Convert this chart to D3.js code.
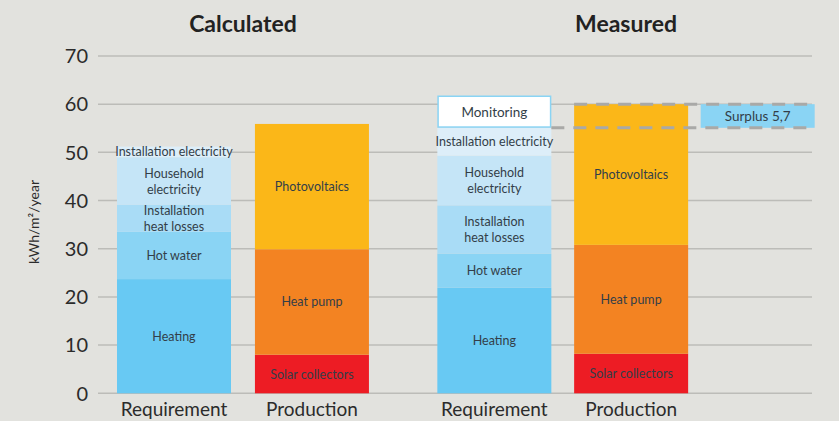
<!DOCTYPE html>
<html>
<head>
<meta charset="utf-8">
<script src="https://cdn.jsdelivr.net/npm/d3@7"></script>
<style>
    body { margin: 0; background: #e2e2de; }
    svg { display: block; font-family: Lato, "Open Sans", sans-serif; }
    .grid line { stroke: #bcbcb8; stroke-width: 1.5; }
    .tick-label { font-size: 20px; fill: #2b2b2b; text-anchor: end; }
    .seg-label { font-size: 12.5px; fill: #333e48; text-anchor: middle; }
    .cat-label { font-size: 19px; fill: #2b2b2b; text-anchor: middle; }
    .title { font-size: 23px; font-weight: bold; fill: #222; text-anchor: middle; }
</style>
</head>
<body>
<script>

// chart values (kWh/m2/year)
var groups = ["Calculated", "Measured"];
var columnLabels = ["Requirement", "Production"];
var yTicks = [0, 10, 20, 30, 40, 50, 60, 70];

var requirementNames = ["Heating", "Hot water", "Installation heat losses", "Household electricity", "Installation electricity", "Monitoring"];
var productionNames = ["Solar collectors", "Heat pump", "Photovoltaics"];

var calcRequirement = [23.7, 9.8, 5.6, 9.9, 2.2];
var calcProduction = [8.0, 21.9, 26.0];
var measRequirement = [21.9, 7.1, 10.0, 10.3, 5.8, 6.7];
var measProduction = [8.2, 22.6, 29.2];
var surplusLabel = "Surplus 5,7";

// label text per segment (line breaks where the picture wraps)
var segmentText = {
    "Heating": ["Heating"],
    "Hot water": ["Hot water"],
    "Installation heat losses": ["Installation", "heat losses"],
    "Household electricity": ["Household", "electricity"],
    "Installation electricity": ["Installation electricity"],
    "Monitoring": ["Monitoring"],
    "Solar collectors": ["Solar collectors"],
    "Heat pump": ["Heat pump"],
    "Photovoltaics": ["Photovoltaics"]
};

var colors = {
    "Heating": "#68c9f3",
    "Hot water": "#8ad4f4",
    "Installation heat losses": "#a9dcf6",
    "Household electricity": "#c5e5f7",
    "Installation electricity": "#ddeef9",
    "Monitoring": "#ffffff",
    "Solar collectors": "#ed1c24",
    "Heat pump": "#f38322",
    "Photovoltaics": "#fbb718",
    "Surplus": "#8ad4f4"
};

window.onload = function() {

    var width = 839, height = 421;

    var svg = d3.select("body")
        .append("svg")
        .attr("width", width)
        .attr("height", height);

    // y scale: 0 .. 70
    var y = d3.scaleLinear()
        .domain([0, 70])
        .range([393.3, 56]);

    // x in units of one bar width, offsets per column
    var x = d3.scaleLinear()
        .domain([0, 1])
        .range([117, 231]);
    var colPos = {
        "Calculated": {req: 0, prod: 1.21},
        "Measured": {req: 2.81, prod: 4.01, surplus: 5.12}
    };

    // gridlines and tick labels
    var grid = svg.append("g").attr("class", "grid");
    grid.selectAll("line")
        .data(yTicks)
        .enter().append("line")
        .attr("x1", 98)
        .attr("x2", 812)
        .attr("y1", function(d) { return y(d); })
        .attr("y2", function(d) { return y(d); });

    svg.selectAll(".tick-label")
        .data(yTicks)
        .enter().append("text")
        .attr("class", "tick-label")
        .attr("x", 88)
        .attr("y", function(d) { return y(d); })
        .attr("dy", "0.36em")
        .text(function(d) { return d; });

    // axis title
    svg.append("text")
        .attr("transform", "translate(39,222) rotate(-90)")
        .attr("text-anchor", "middle")
        .style("font-size", "14px")
        .style("fill", "#2b2b2b")
        .text("kWh/m²/year");

    // turn a list of values into stacked segments
    function stack(values, names) {
        var base = 0;
        return values.map(function(v, i) {
            var seg = {name: names[i], y0: base, y1: base + v};
            base += v;
            return seg;
        });
    }

    var columns = [
        {group: "Calculated", col: "req", segs: stack(calcRequirement, requirementNames)},
        {group: "Calculated", col: "prod", segs: stack(calcProduction, productionNames)},
        {group: "Measured", col: "req", segs: stack(measRequirement, requirementNames)},
        {group: "Measured", col: "prod", segs: stack(measProduction, productionNames)}
    ];

    var measReqTotal = d3.sum(measRequirement.slice(0, 5));
    var measProdTotal = d3.sum(measProduction);

    // surplus bar behind the dashed lines
    var sp = colPos["Measured"].surplus;
    svg.append("rect")
        .attr("x", x(sp))
        .attr("width", x(1) - x(0))
        .attr("y", y(measProdTotal))
        .attr("height", y(measReqTotal) - y(measProdTotal))
        .style("fill", colors["Surplus"]);
    svg.append("text")
        .attr("class", "seg-label")
        .style("font-size", "13.5px")
        .attr("x", x(sp + 0.5))
        .attr("y", (y(measProdTotal) + y(measReqTotal)) / 2)
        .attr("dy", "0.36em")
        .text(surplusLabel);

    columns.forEach(function(c) {
        var pos = colPos[c.group][c.col];
        var g = svg.append("g");

        g.selectAll("rect")
            .data(c.segs)
            .enter().append("rect")
            .attr("x", function(d) { return x(pos) + (d.name === "Monitoring" ? 0.75 : 0); })
            .attr("width", function(d) { return x(1) - x(0) - (d.name === "Monitoring" ? 1.5 : 0); })
            .attr("y", function(d) { return y(d.y1) + (d.name === "Monitoring" ? 0.75 : 0); })
            .attr("height", function(d) { return y(d.y0) - y(d.y1) - (d.name === "Monitoring" ? 1.5 : 0); })
            .style("fill", function(d) { return colors[d.name]; })
            .style("stroke", function(d) { return d.name === "Monitoring" ? colors["Hot water"] : "none"; })
            .style("stroke-width", 1.5);

        g.selectAll("text")
            .data(c.segs)
            .enter().append("text")
            .attr("class", "seg-label")
            .attr("x", x(pos + 0.5))
            .attr("y", function(d) {
                var lines = segmentText[d.name].length;
                return (y(d.y0) + y(d.y1)) / 2 - (lines - 1) * 8;
            })
            .attr("dy", "0.36em")
            .style("font-size", function(d) { return d.name === "Monitoring" ? "13.5px" : null; })
            .each(function(d) {
                var t = d3.select(this);
                segmentText[d.name].forEach(function(line, i) {
                    t.append("tspan")
                        .attr("x", x(pos + 0.5))
                        .attr("dy", i === 0 ? "0.36em" : "16px")
                        .text(line);
                });
            });

        // category label below the bar
        svg.append("text")
            .attr("class", "cat-label")
            .attr("x", x(pos + 0.5))
            .attr("y", 416)
            .text(c.col === "req" ? columnLabels[0] : columnLabels[1]);
    });

    // dashed lines marking requirement and production totals
    var dashes = [
        {value: measProdTotal, from: colPos["Measured"].prod},
        {value: measReqTotal, from: colPos["Measured"].req + 1}
    ];
    svg.selectAll(".dash")
        .data(dashes)
        .enter().append("line")
        .attr("class", "dash")
        .attr("x1", function(d) { return x(d.from); })
        .attr("x2", x(sp + 1))
        .attr("y1", function(d) { return y(d.value); })
        .attr("y2", function(d) { return y(d.value); })
        .style("stroke", "#a9a9a7")
        .style("stroke-width", 3)
        .style("stroke-dasharray", "13,9");

    // group titles
    svg.append("text")
        .attr("class", "title")
        .attr("x", (x(colPos["Calculated"].req) + x(colPos["Calculated"].prod + 1)) / 2)
        .attr("y", 32)
        .text(groups[0]);
    svg.append("text")
        .attr("class", "title")
        .attr("x", (x(colPos["Measured"].req) + x(sp + 1)) / 2)
        .attr("y", 32)
        .text(groups[1]);
};
</script>
</body>
</html>
